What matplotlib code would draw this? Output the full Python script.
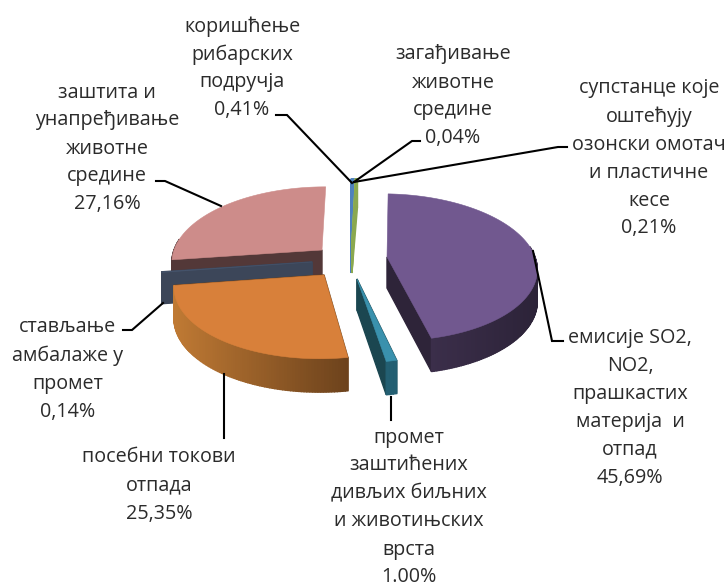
import numpy as np
import matplotlib
matplotlib.use("Agg")
import matplotlib.pyplot as plt
from matplotlib.colors import to_rgb
from matplotlib.patches import Polygon

# ---- data ----
values = [45.69, 1.00, 25.35, 0.14, 27.16, 0.41, 0.04, 0.21]
labels = [
    ["емисије SO2,", "NO2,", "прашкастих", "материја  и", "отпад", "45,69%"],
    ["промет", "заштићених", "дивљих биљних", "и животињских", "врста", "1.00%"],
    ["посебни токови", "отпада", "25,35%"],
    ["стављање", "амбалаже у", "промет", "0,14%"],
    ["заштита и", "унапређивање", "животне", "средине", "27,16%"],
    ["коришћење", "рибарских", "подручја", "0,41%"],
    ["загађивање", "животне", "средине", "0,04%"],
    ["супстанце које", "оштећују", "озонски омотач", "и пластичне", "кесе", "0,21%"],
]

# ---- layout / style ----
label_xy = [(630, 335), (409, 435), (159, 455), (68, 325),
            (107, 90), (242, 24), (453, 52), (649, 86)]
apex = [(387, 257), (357, 279), (324, 275), (312, 262),
        (322, 250), (351, 242), (352, 242), (352, 242)]
top_col = ['#71588f', '#3a91ad', '#d8803a', '#45536b',
           '#cd8c8a', '#4f81bd', '#9bbb59', '#8aa84f']
cut_col = ['#2e2439', '#1b4650', '#6c421c', '#3c4659',
           '#533838', '#4f81bd', '#9bbb59', '#8aa84f']
wall_l = ['#3b2e4a', '#235f72', '#c07a34', '#3c4659',
          '#533838', '#4f81bd', '#9bbb59', '#8aa84f']
wall_r = ['#2c2338', '#235f72', '#6c421c', '#3c4659',
          '#533838', '#4f81bd', '#9bbb59', '#8aa84f']
leaders = [
    [(533, 251), (552, 341), (563, 341)],
    [(391, 397), (391, 420)],
    [(224, 374), (224, 438)],
    [(163, 303), (132, 330), (123, 330)],
    [(221, 206), (165, 181), (156, 181)],
    [(352, 183), (287, 115), (276, 115)],
    [(354, 182), (412, 141), (420, 141)],
    [(354, 182), (558, 147), (567, 147)],
]
draw_order = [4, 3, 5, 6, 7, 2, 1, 0]
CX, RX, RY, PERSP, DEPTH, START = 350, 148, 72, 0.14, 31, 2.5
PITCH = 28
plt.rcParams['font.family'] = ['Open Sans', 'DejaVu Sans']

fig = plt.figure(figsize=(7.27, 5.85), dpi=100)
ax = fig.add_axes([0, 0, 1, 1])
ax.set_xlim(0, 727)
ax.set_ylim(585, 0)
ax.axis('off')


def project(ax0, ay0, u, v):
    s = 1 / (1 + PERSP * v)
    return CX + (ax0 - CX + RX * u) * s, ay0 - RY * v * s, s


def mix(a, b, t):
    a, b = np.array(to_rgb(a)), np.array(to_rgb(b))
    return tuple(a + (b - a) * np.clip(t, 0, 1))


def wall(p, q, color):
    d1, d2 = DEPTH * p[2] ** 0.5, DEPTH * q[2] ** 0.5
    quad = [(p[0], p[1]), (q[0], q[1]), (q[0], q[1] + d2), (p[0], p[1] + d1)]
    ax.add_patch(Polygon(quad, closed=True, fc=color, ec=color, lw=1.0, zorder=2))


total = sum(values)
ends = np.cumsum(values) / total * 360
starts = np.concatenate([[0], ends[:-1]])

for i in draw_order:
    th = np.radians(np.linspace(starts[i], ends[i], max(4, int(values[i] * 4))) + START)
    a0, b0 = apex[i]
    rim = [project(a0, b0, np.sin(t), np.cos(t)) for t in th]
    centre = (a0, b0, 1.0)
    front = [p[0] for p, t in zip(rim, th) if np.cos(t) < 0]
    x0, x1 = (min(front), max(front)) if front else (0, 1)
    thin = values[i] < 1
    for end_t, end_p in ((th[0], rim[0]), (th[-1], rim[-1])):
        if thin or np.cos(end_t) < 0.1:
            wall(centre, end_p, cut_col[i])
    order = sorted(range(len(rim) - 1), key=lambda k: rim[k][1])
    for k in order:
        if thin or np.cos(th[k]) < 0.15:
            p, q = rim[k], rim[k + 1]
            t = ((p[0] + q[0]) / 2 - x0) / (x1 - x0) if x1 > x0 else 0
            wall(p, q, mix(wall_l[i], wall_r[i], t))
    ax.add_patch(Polygon([centre[:2]] + [p[:2] for p in rim], closed=True,
                         fc=top_col[i], ec=top_col[i], lw=0.4, zorder=2))

for line in leaders:
    ax.plot(*zip(*line), color='black', lw=1.5, solid_joinstyle='miter', zorder=3)

for lines, (x, y) in zip(labels, label_xy):
    for k, text in enumerate(lines):
        ax.text(x, y + k * PITCH, text, ha='center', va='center_baseline',
                fontsize=14.2, color='#2b2b2b', zorder=4)

fig.savefig('out.png', dpi=100, facecolor='white')
